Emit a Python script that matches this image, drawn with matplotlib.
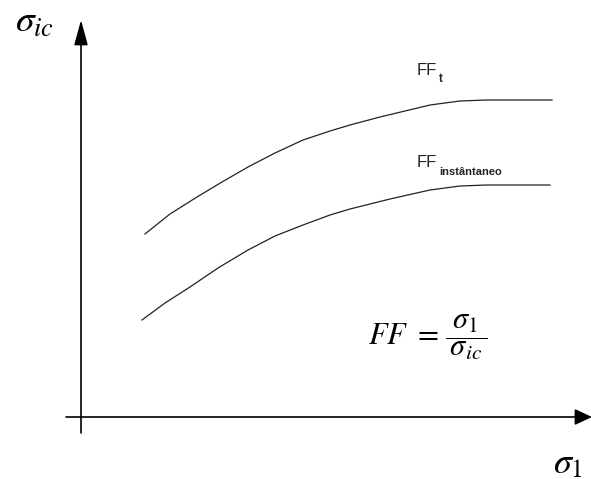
import numpy as np
import matplotlib

matplotlib.use("Agg")
import matplotlib.pyplot as plt

# curves in plot units, origin at the axes crossing
ff_t_x = [64, 89, 116, 141, 167, 194, 222, 249, 269, 299, 349, 379, 406, 471]
ff_t_y = [183, 203, 220, 235, 250, 264, 277, 286, 292, 300, 312, 316, 317, 317]

ff_inst_x = [61, 84, 109, 137, 167, 194, 222, 249, 269, 309, 349, 379, 406, 469]
ff_inst_y = [97, 114, 130, 149, 167, 181, 192, 202, 208, 218, 227, 231, 232, 232]

fig = plt.figure(figsize=(5.91, 4.79), dpi=100)
ax = fig.add_axes([0, 0, 1, 1])
ax.set_xlim(-81, 510)
ax.set_ylim(-62, 417)
ax.axis("off")

# axes with arrow heads
arrow = dict(arrowstyle="-|>,head_length=1.1,head_width=0.3", color="black",
             lw=1.2, mutation_scale=14, shrinkA=0, shrinkB=0)
ax.annotate("", xy=(0, 397), xytext=(0, -16), arrowprops=arrow,
            annotation_clip=False)
ax.annotate("", xy=(511, 0), xytext=(-15, 0), annotation_clip=False,
            arrowprops=dict(arrow, arrowstyle="-|>,head_length=0.75,head_width=0.35"))

ax.plot(ff_t_x, ff_t_y, color="#222222", lw=0.9)
ax.plot(ff_inst_x, ff_inst_y, color="#222222", lw=0.9)

sans = "Liberation Sans"
ax.text(336, 342, "FF", family=sans, fontsize=12, color="#222222")
ax.text(358, 335, "t", family=sans, fontsize=8.5, fontweight="bold", color="#222222")
ax.text(336, 250, "FF", family=sans, fontsize=12, color="#222222")
ax.text(358, 242, "instântaneo", family=sans, fontsize=8, fontweight="bold",
        color="#222222")

ax.text(-66, 385, r"$\sigma_{ic}$", fontsize=27, math_fontfamily="stix")
ax.text(472, -56, r"$\sigma_1$", fontsize=26, math_fontfamily="stix")
ax.text(287, 80, r"$FF\ =\,\dfrac{\;\sigma_1\;}{\sigma_{ic}}$", fontsize=22,
        math_fontfamily="stix", va="center")

fig.savefig("out.png", dpi=100)
